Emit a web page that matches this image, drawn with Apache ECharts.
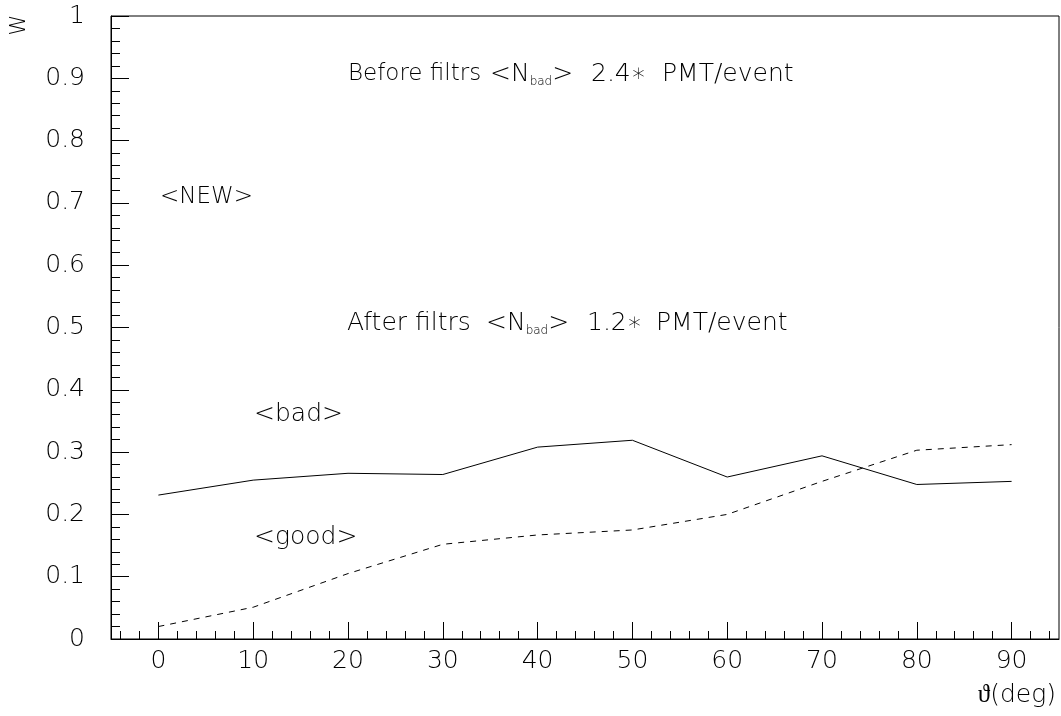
<!DOCTYPE html>
<html>
<head>
<meta charset="utf-8">
<script src="https://cdn.jsdelivr.net/npm/echarts@6/dist/echarts.min.js"></script>
<style>
html,body{margin:0;padding:0;background:#fff;}
#chart{width:1061px;height:716px;}
</style>
</head>
<body>
<div id="chart"></div>
<script>
const angles = [0, 10, 20, 30, 40, 50, 60, 70, 80, 90];
const badValues = [0.231, 0.255, 0.266, 0.264, 0.308, 0.319, 0.260, 0.294, 0.248, 0.253];
const goodValues = [0.020, 0.051, 0.105, 0.152, 0.167, 0.175, 0.200, 0.253, 0.303, 0.312];
const xMajorTicks = [0, 10, 20, 30, 40, 50, 60, 70, 80, 90];
const xMinorTicks = [-4, -2, 2, 4, 6, 8, 12, 14, 16, 18, 22, 24, 26, 28, 32, 34, 36, 38, 42, 44, 46, 48, 52, 54, 56, 58, 62, 64, 66, 68, 72, 74, 76, 78, 82, 84, 86, 88, 92, 94];

const FONT = 'DejaVu Sans';
const FW = 200;
const FS = 25;
const chart = echarts.init(document.getElementById('chart'), null, {renderer: 'canvas'});

const txt = (x, y, text, extra) => ({
  type: 'text', x: x, y: y,
  style: Object.assign({
    text: text, fill: '#000', fontFamily: FONT, fontWeight: FW, fontSize: FS,
    verticalAlign: 'middle', align: 'left',
    rich: {
      n: {fontFamily: FONT, fontWeight: FW, fontSize: FS, fill: '#000'},
      s: {fontFamily: FONT, fontWeight: FW, fontSize: 12, fill: '#000', verticalAlign: 'bottom', padding: [15, 0, 0, 0]}
    }
  }, extra || {})
});

chart.setOption({
  animation: false,
  backgroundColor: '#fff',
  grid: {left: 111, right: 2, top: 16, bottom: 77, show: true, borderColor: '#000', borderWidth: 1, backgroundColor: 'transparent'},
  xAxis: [{
    type: 'value', min: -5, max: 95, position: 'bottom',
    axisLine: {show: true, onZero: false, lineStyle: {color: '#000', width: 1}},
    axisTick: {show: true, inside: true, length: 17, customValues: xMajorTicks, lineStyle: {color: '#000'}},
    axisLabel: {show: true, customValues: xMajorTicks, color: '#000', fontFamily: FONT, fontWeight: FW, fontSize: FS, margin: 10},
    splitLine: {show: false}
  }, {
    type: 'value', min: -5, max: 95, position: 'bottom', gridIndex: 0,
    axisLine: {show: false, onZero: false},
    axisTick: {show: true, inside: true, length: 8, customValues: xMinorTicks, lineStyle: {color: '#000'}},
    axisLabel: {show: false},
    splitLine: {show: false}
  }],
  yAxis: {
    type: 'value', min: 0, max: 1, interval: 0.1, position: 'left',
    axisLine: {show: true, onZero: false, lineStyle: {color: '#000', width: 1}},
    axisTick: {show: true, inside: true, length: 18, lineStyle: {color: '#000'}},
    minorTick: {show: true, splitNumber: 5, length: 9, lineStyle: {color: '#000'}},
    axisLabel: {color: '#000', fontFamily: FONT, fontWeight: FW, fontSize: FS, margin: 26,
      formatter: v => String(Math.round(v * 10) / 10)},
    splitLine: {show: false}
  },
  series: [{
    name: 'bad', type: 'line', xAxisIndex: 0,
    data: angles.map((a, i) => [a, badValues[i]]),
    showSymbol: false, lineStyle: {color: '#000', width: 1, type: 'solid'}
  }, {
    name: 'good', type: 'line', xAxisIndex: 0,
    data: angles.map((a, i) => [a, goodValues[i]]),
    showSymbol: false, lineStyle: {color: '#000', width: 1, type: [6, 6]}
  }],
  graphic: [
    txt(348, 74, 'Before filtrs', {fontSize: 23}),
    txt(490, 74, '{n|<N}{s|bad}{n|>}'),
    txt(591, 74, '2.4∗'),
    txt(662, 74, 'PMT/event'),
    txt(347, 323, 'After filtrs'),
    txt(486, 323, '{n|<N}{s|bad}{n|>}'),
    txt(587, 323, '1.2∗'),
    txt(656, 323, 'PMT/event'),
    txt(160, 197, '<NEW>', {fontSize: 23}),
    txt(254, 414, '<bad>'),
    txt(254, 537, '<good>'),
    txt(1056, 695, 'ϑ(deg)', {align: 'right'}),
    {type: 'text', x: 20, y: 25, rotation: Math.PI / 2,
      style: {text: 'W', fill: '#000', fontFamily: FONT, fontWeight: FW, fontSize: 21, align: 'center', verticalAlign: 'middle'}}
  ]
});
</script>
</body>
</html>
